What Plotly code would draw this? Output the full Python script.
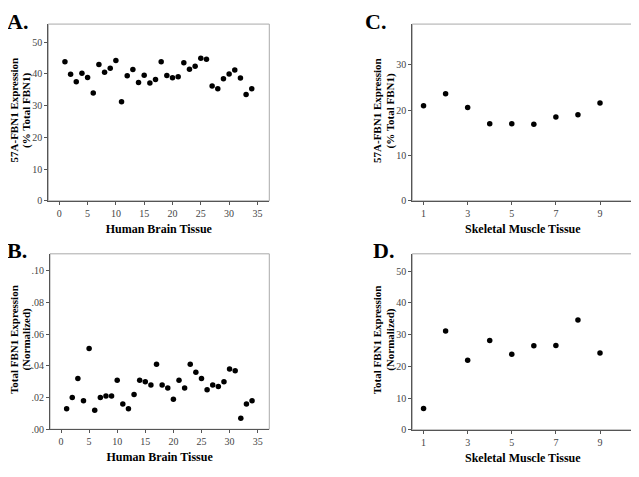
import plotly.graph_objects as go

# Panel A: 57A-FBN1 expression in human brain tissue
brain_ids = list(range(1, 35))
brain_57a = [43.8, 39.9, 37.5, 40.2, 38.9, 34.0, 43.0, 40.5, 41.8, 44.2,
             31.2, 39.4, 41.4, 37.3, 39.6, 37.1, 38.2, 43.8, 39.5, 38.8,
             39.1, 43.5, 41.5, 42.4, 44.9, 44.6, 36.2, 35.3, 38.5, 40.0,
             41.2, 38.7, 33.5, 35.3]

# Panel B: total FBN1 expression in human brain tissue
brain_total = [0.013, 0.020, 0.032, 0.018, 0.051, 0.012, 0.020, 0.021, 0.021, 0.031,
               0.016, 0.013, 0.022, 0.031, 0.030, 0.028, 0.041, 0.028, 0.026, 0.019,
               0.031, 0.026, 0.041, 0.036, 0.032, 0.025, 0.028, 0.027, 0.030, 0.038,
               0.037, 0.007, 0.016, 0.018]

# Panels C/D: skeletal muscle tissue
muscle_ids = list(range(1, 10))
muscle_57a = [21.0, 23.6, 20.6, 17.0, 17.0, 16.9, 18.5, 19.0, 21.6]
muscle_total = [6.7, 31.2, 21.9, 28.2, 23.8, 26.5, 26.6, 34.6, 24.2]

# page body has an 8px margin, so the figure is drawn 8px in from the top-left
OFF = 8
W, H = 639 - OFF, 477 - OFF
FONT = "Liberation Serif"


def fx(px):
    return (px - OFF) / W


def fy(py):
    return 1 - (py - OFF) / H


panels = [
    dict(x=brain_ids, y=brain_57a, box=(48.3, 269.3, 24.3, 203.3),
         xr=[-1.94, 37.1], yr=[0, 55.7], xt=[0, 5, 10, 15, 20, 25, 30, 35],
         yt=[0, 10, 20, 30, 40, 50], ytt=None,
         ytitle=("57A-FBN1 Expression", "(% Total FBN1)"), ytx=(14, 26.5),
         xtitle="<b>Human Brain Tissue</b>", label="A.", lx=5, ly=7),
    dict(x=brain_ids, y=brain_total, box=(50, 269.3, 257, 434.7),
         xr=[-1.96, 37.07], yr=[0, 0.1108], xt=[0, 5, 10, 15, 20, 25, 30, 35],
         yt=[0, 0.02, 0.04, 0.06, 0.08, 0.10], ytt=[".00", ".02", ".04", ".06", ".08", ".10"],
         ytitle=("Total FBN1 Expression", "(Normalized)"), ytx=(13.5, 27),
         xtitle="<b>Human Brain Tissue</b>", label="B.", lx=5, ly=239),
    dict(x=muscle_ids, y=muscle_57a, box=(412.3, 633.3, 24.3, 203.3),
         xr=[0.49, 10.51], yr=[0, 39.0], xt=[1, 3, 5, 7, 9],
         yt=[0, 10, 20, 30], ytt=None,
         ytitle=("57A-FBN1 Expression", "(% Total FBN1)"), ytx=(377.5, 390),
         xtitle="<b>Skeletal Muscle Tissue</b>", label="C.", lx=363, ly=7),
    dict(x=muscle_ids, y=muscle_total, box=(412.3, 633.3, 257, 435.3),
         xr=[0.49, 10.51], yr=[0, 55.5], xt=[1, 3, 5, 7, 9],
         yt=[0, 10, 20, 30, 40, 50], ytt=None,
         ytitle=("Total FBN1 Expression", "(Normalized)"), ytx=(376.5, 391),
         xtitle="<b>Skeletal Muscle Tissue</b>", label="D.", lx=371, ly=239),
]

fig = go.Figure()
layout = {}
annotations = []
shapes = []

for i, p in enumerate(panels, start=1):
    xa = "x" if i == 1 else f"x{i}"
    ya = "y" if i == 1 else f"y{i}"
    x0, x1, top, bottom = p["box"]
    xd = [fx(x0), fx(x1)]
    yd = [fy(bottom), fy(top)]
    fig.add_trace(go.Scatter(
        x=p["x"], y=p["y"], mode="markers",
        marker=dict(color="black", size=5.5),
        xaxis=xa, yaxis=ya, showlegend=False,
    ))
    layout[f"xaxis{'' if i == 1 else i}"] = dict(
        domain=xd, range=p["xr"], anchor=ya,
        tickvals=p["xt"], ticks="outside", ticklen=3, tickcolor="#555",
        showgrid=False, zeroline=False, showline=True, linecolor="#555", linewidth=1,
        tickfont=dict(family=FONT, size=10, color="#444"),
        title=dict(text=p["xtitle"], font=dict(family=FONT, size=12, color="black"), standoff=6),
    )
    layout[f"yaxis{'' if i == 1 else i}"] = dict(
        domain=yd, range=p["yr"], anchor=xa,
        tickvals=p["yt"], ticktext=p["ytt"], ticks="outside", ticklen=3, tickcolor="#555",
        showgrid=False, zeroline=False, showline=True, linecolor="#555", linewidth=1,
        tickfont=dict(family=FONT, size=10, color="#444"),
    )
    shapes.append(dict(
        type="rect", xref="paper", yref="paper",
        x0=xd[0], x1=xd[1], y0=yd[0], y1=yd[1],
        line=dict(color="#aaa", width=1), layer="below",
    ))
    # two-line y title, each line placed on its own
    for line, lx in zip(p["ytitle"], p["ytx"]):
        annotations.append(dict(
            text=f"<b>{line}</b>", xref="paper", yref="paper",
            x=fx(lx), y=fy((top + bottom) / 2 - 2), xanchor="center", yanchor="middle",
            textangle=-90, showarrow=False,
            font=dict(family=FONT, size=11, color="black"),
        ))
    annotations.append(dict(
        text=f"<b>{p['label']}</b>", xref="paper", yref="paper",
        x=fx(p["lx"]), y=fy(p["ly"]), xanchor="left", yanchor="top",
        showarrow=False, font=dict(family=FONT, size=22, color="black"),
    ))

fig.update_layout(
    **layout,
    width=W, height=H,
    margin=dict(l=0, r=0, t=0, b=0),
    paper_bgcolor="white", plot_bgcolor="white",
    annotations=annotations, shapes=shapes,
    font=dict(family=FONT),
)

fig.write_html("out.html")
